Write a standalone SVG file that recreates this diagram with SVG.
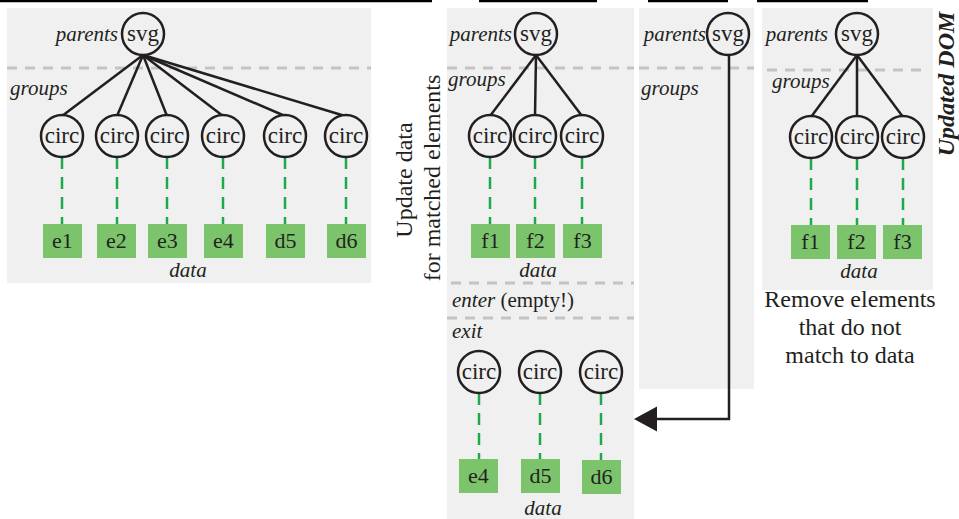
<svg xmlns="http://www.w3.org/2000/svg" width="959" height="519" viewBox="0 0 959 519">
<style>
  .panel { fill: #eff0ef; }
  .topbar { stroke: #000; stroke-width: 2.5; }
  .sep { stroke: #c4c4c4; stroke-width: 3; stroke-dasharray: 10 8; fill: none; }
  .node { fill: #eff0ef; stroke: #231f20; stroke-width: 2.5; }
  .edge { stroke: #231f20; stroke-width: 2.5; fill: none; }
  .bind { stroke: #1ea94b; stroke-width: 2.5; stroke-dasharray: 12 8; fill: none; }
  .box { fill: #7bc46c; }
  text { font-family: "Liberation Serif", "Times New Roman", serif; fill: #231f20; }
  .lbl { font-size: 21px; font-style: italic; }
  .nt { font-size: 23px; text-anchor: middle; }
  .bt { font-size: 22px; text-anchor: middle; }
  .cap { font-size: 24px; text-anchor: middle; }
</style>
<defs>
  <marker id="arrow" markerUnits="userSpaceOnUse" markerWidth="24" markerHeight="26" refX="17" refY="12.5" orient="auto">
    <path d="M0,0 L23,12.5 L0,25 Z" fill="#231f20"/>
  </marker>
</defs>

<!-- top bars -->
<g id="topbars">
  <line class="topbar" x1="0" y1="1" x2="432" y2="1"/>
  <line class="topbar" x1="479" y1="1" x2="597" y2="1"/>
  <line class="topbar" x1="648" y1="1" x2="728" y2="1"/>
  <line class="topbar" x1="757" y1="1" x2="868" y2="1"/>
</g>

<!-- panels -->
<g id="panels">
  <rect class="panel" x="7" y="8" width="364" height="275"/>
  <rect class="panel" x="447" y="8" width="187" height="511"/>
  <rect class="panel" x="639" y="8" width="115" height="381"/>
  <rect class="panel" x="762" y="8" width="171" height="282"/>
  <line class="sep" x1="7" y1="68" x2="371" y2="68"/>
  <line class="sep" x1="447" y1="68" x2="634" y2="68"/>
  <line class="sep" x1="639" y1="68" x2="754" y2="68"/>
  <line class="sep" x1="767" y1="70" x2="928" y2="70"/>
  <line class="sep" x1="451" y1="283" x2="634" y2="283"/>
  <line class="sep" x1="447" y1="318" x2="634" y2="318"/>
</g>

<!-- connectors -->
<g id="connectors">
  <line class="edge" x1="143" y1="55" x2="62" y2="116"/>
  <line class="edge" x1="143" y1="55" x2="117" y2="116"/>
  <line class="edge" x1="143" y1="55" x2="167" y2="116"/>
  <line class="edge" x1="143" y1="55" x2="223" y2="116"/>
  <line class="edge" x1="143" y1="55" x2="285" y2="116"/>
  <line class="edge" x1="143" y1="55" x2="345" y2="116"/>
  <line class="bind" x1="62" y1="157" x2="62" y2="224"/>
  <line class="bind" x1="117" y1="157" x2="117" y2="224"/>
  <line class="bind" x1="167" y1="157" x2="167" y2="224"/>
  <line class="bind" x1="223" y1="157" x2="223" y2="224"/>
  <line class="bind" x1="285" y1="157" x2="285" y2="224"/>
  <line class="bind" x1="346" y1="157" x2="346" y2="224"/>

  <line class="edge" x1="536" y1="55" x2="490" y2="116"/>
  <line class="edge" x1="536" y1="55" x2="535" y2="116"/>
  <line class="edge" x1="536" y1="55" x2="582" y2="116"/>
  <line class="bind" x1="490" y1="157" x2="490" y2="224"/>
  <line class="bind" x1="535" y1="157" x2="535" y2="224"/>
  <line class="bind" x1="582" y1="157" x2="582" y2="224"/>

  <line class="bind" x1="479" y1="393" x2="479" y2="459"/>
  <line class="bind" x1="540" y1="393" x2="540" y2="459"/>
  <line class="bind" x1="601" y1="393" x2="601" y2="460"/>

  <path class="edge" d="M729,55 V419 H640" stroke-width="3" marker-end="url(#arrow)"/>

  <line class="edge" x1="857" y1="55" x2="811" y2="117"/>
  <line class="edge" x1="857" y1="55" x2="857" y2="117"/>
  <line class="edge" x1="857" y1="55" x2="903" y2="117"/>
  <line class="bind" x1="811" y1="158" x2="811" y2="225"/>
  <line class="bind" x1="857" y1="158" x2="857" y2="225"/>
  <line class="bind" x1="903" y1="158" x2="903" y2="225"/>
</g>

<!-- panel 1 -->
<g id="p1-labels">
  <text class="lbl" x="118" y="41" text-anchor="end">parents</text>
  <text class="lbl" x="10" y="95">groups</text>
  <text class="lbl" x="188" y="277" text-anchor="middle">data</text>
</g>
<g id="p1-svg"><circle class="node" cx="143" cy="34" r="21"/><text class="nt" x="143" y="41">svg</text></g>
<g id="p1-c1"><circle class="node" cx="62" cy="136" r="21"/><text class="nt" x="62" y="143">circ</text></g>
<g id="p1-c2"><circle class="node" cx="117" cy="136" r="21"/><text class="nt" x="117" y="143">circ</text></g>
<g id="p1-c3"><circle class="node" cx="167" cy="136" r="21"/><text class="nt" x="167" y="143">circ</text></g>
<g id="p1-c4"><circle class="node" cx="223" cy="136" r="21"/><text class="nt" x="223" y="143">circ</text></g>
<g id="p1-c5"><circle class="node" cx="285" cy="136" r="21"/><text class="nt" x="285" y="143">circ</text></g>
<g id="p1-c6"><circle class="node" cx="346" cy="136" r="21"/><text class="nt" x="346" y="143">circ</text></g>
<g id="p1-e1"><rect class="box" x="43" y="224" width="39" height="34"/><text class="bt" x="62.5" y="248">e1</text></g>
<g id="p1-e2"><rect class="box" x="97" y="224" width="39" height="34"/><text class="bt" x="116.5" y="248">e2</text></g>
<g id="p1-e3"><rect class="box" x="148" y="224" width="39" height="34"/><text class="bt" x="167.5" y="248">e3</text></g>
<g id="p1-e4"><rect class="box" x="204" y="224" width="39" height="34"/><text class="bt" x="223.5" y="248">e4</text></g>
<g id="p1-d5"><rect class="box" x="266" y="224" width="39" height="34"/><text class="bt" x="285.5" y="248">d5</text></g>
<g id="p1-d6"><rect class="box" x="327" y="224" width="39" height="34"/><text class="bt" x="346.5" y="248">d6</text></g>

<!-- side caption -->
<g id="caption-update">
  <text class="cap" transform="translate(412,180) rotate(-90)">Update data</text>
  <text class="cap" transform="translate(440,178) rotate(-90)">for matched elements</text>
</g>

<!-- panel 2 -->
<g id="p2-labels">
  <text class="lbl" x="512" y="41" text-anchor="end">parents</text>
  <text class="lbl" x="448" y="86">groups</text>
  <text class="lbl" x="538" y="277" text-anchor="middle">data</text>
  <text x="452" y="307" font-size="21"><tspan font-style="italic">enter</tspan> (empty!)</text>
  <text class="lbl" x="452" y="338">exit</text>
  <text class="lbl" x="543" y="515" text-anchor="middle">data</text>
</g>
<g id="p2-svg"><circle class="node" cx="536" cy="34" r="21"/><text class="nt" x="536" y="41">svg</text></g>
<g id="p2-c1"><circle class="node" cx="490" cy="136" r="21"/><text class="nt" x="490" y="143">circ</text></g>
<g id="p2-c2"><circle class="node" cx="535" cy="136" r="21"/><text class="nt" x="535" y="143">circ</text></g>
<g id="p2-c3"><circle class="node" cx="582" cy="136" r="21"/><text class="nt" x="582" y="143">circ</text></g>
<g id="p2-f1"><rect class="box" x="471" y="224" width="39" height="34"/><text class="bt" x="490.5" y="248">f1</text></g>
<g id="p2-f2"><rect class="box" x="516" y="224" width="39" height="34"/><text class="bt" x="535.5" y="248">f2</text></g>
<g id="p2-f3"><rect class="box" x="563" y="224" width="39" height="34"/><text class="bt" x="582.5" y="248">f3</text></g>
<g id="p2-x1"><circle class="node" cx="479" cy="372" r="21"/><text class="nt" x="479" y="379">circ</text></g>
<g id="p2-x2"><circle class="node" cx="540" cy="372" r="21"/><text class="nt" x="540" y="379">circ</text></g>
<g id="p2-x3"><circle class="node" cx="601" cy="372" r="21"/><text class="nt" x="601" y="379">circ</text></g>
<g id="p2-e4"><rect class="box" x="459" y="459" width="39" height="34"/><text class="bt" x="478.5" y="483">e4</text></g>
<g id="p2-d5"><rect class="box" x="521" y="459" width="39" height="34"/><text class="bt" x="540.5" y="483">d5</text></g>
<g id="p2-d6"><rect class="box" x="582" y="460" width="39" height="34"/><text class="bt" x="601.5" y="484">d6</text></g>

<!-- panel 3 -->
<g id="p3-labels">
  <text class="lbl" x="706" y="41" text-anchor="end">parents</text>
  <text class="lbl" x="641" y="95">groups</text>
</g>
<g id="p3-svg"><circle class="node" cx="728" cy="34" r="21"/><text class="nt" x="728" y="41">svg</text></g>

<!-- panel 4 -->
<g id="p4-labels">
  <text class="lbl" x="828" y="41" text-anchor="end">parents</text>
  <text class="lbl" x="772" y="88">groups</text>
  <text class="lbl" x="859" y="278" text-anchor="middle">data</text>
</g>
<g id="p4-svg"><circle class="node" cx="857" cy="34" r="21"/><text class="nt" x="857" y="41">svg</text></g>
<g id="p4-c1"><circle class="node" cx="811" cy="137" r="21"/><text class="nt" x="811" y="144">circ</text></g>
<g id="p4-c2"><circle class="node" cx="857" cy="137" r="21"/><text class="nt" x="857" y="144">circ</text></g>
<g id="p4-c3"><circle class="node" cx="903" cy="137" r="21"/><text class="nt" x="903" y="144">circ</text></g>
<g id="p4-f1"><rect class="box" x="791" y="225" width="39" height="34"/><text class="bt" x="810.5" y="249">f1</text></g>
<g id="p4-f2"><rect class="box" x="837" y="225" width="39" height="34"/><text class="bt" x="856.5" y="249">f2</text></g>
<g id="p4-f3"><rect class="box" x="883" y="225" width="39" height="34"/><text class="bt" x="902.5" y="249">f3</text></g>
<g id="caption-remove">
  <text class="cap" x="850" y="307">Remove elements</text>
  <text class="cap" x="850" y="335">that do not</text>
  <text class="cap" x="850" y="363">match to data</text>
</g>
<g id="caption-updated">
  <text transform="translate(954,84) rotate(-90)" font-size="24" font-weight="bold" font-style="italic" text-anchor="middle">Updated DOM</text>
</g>
</svg>
